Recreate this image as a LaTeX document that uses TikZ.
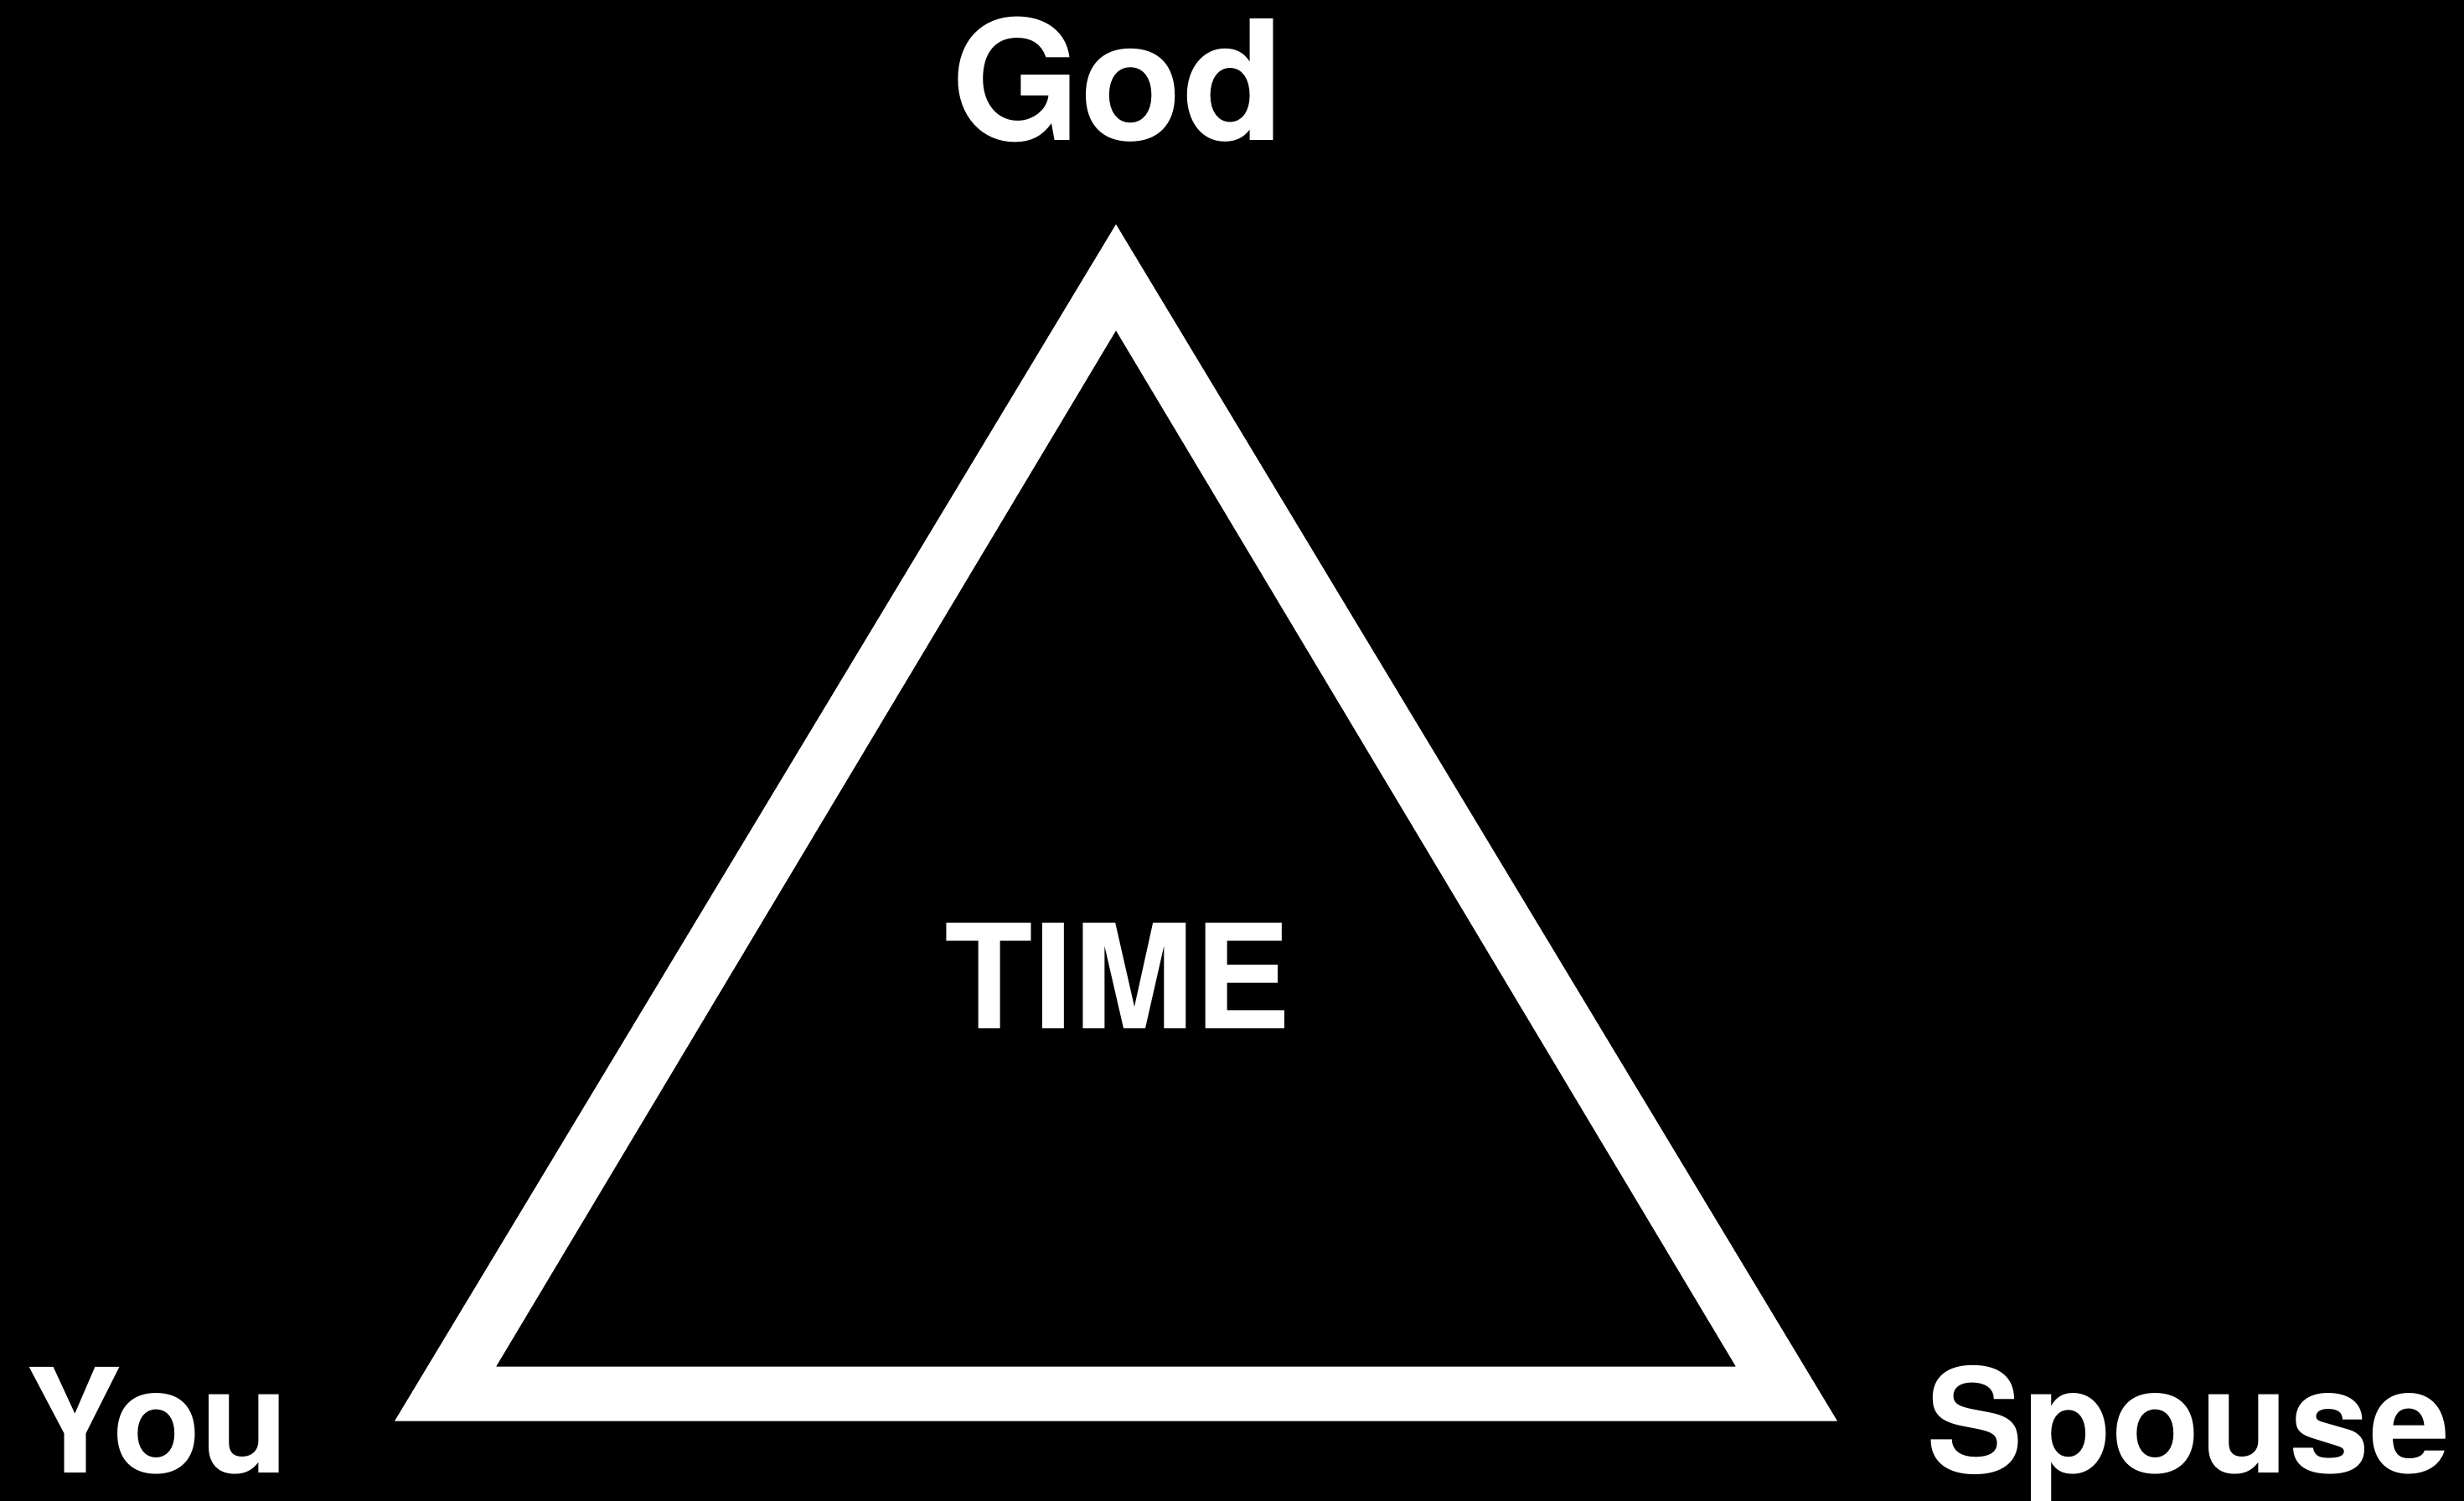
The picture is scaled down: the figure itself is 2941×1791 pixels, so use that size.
\documentclass[tikz,border=0pt]{standalone}
\usepackage{fontspec}
\setmainfont{TeX Gyre Heros}
\begin{document}
\begin{tikzpicture}[x=1bp,y=-1bp,
  lbl/.style={text=white,font=\bfseries\fontsize{173bp}{173bp}\selectfont,inner sep=0pt,anchor=base},
  big/.style={font=\bfseries\fontsize{199bp}{199bp}\selectfont}]
\fill[black] (0,0) rectangle (2941,1791);
\useasboundingbox (0,0) rectangle (2941,1791);
\fill[white,even odd rule]
  (1332,267.7) -- (2193,1695.7) -- (471,1695.7) -- cycle
  (1332,394.3) -- (2072,1630.7) -- (592,1630.7) -- cycle;
\node[lbl,big] (god) at (1334,167) {God};
\node[lbl] (time) at (1334,1227.7) {TIME};
\node[lbl] (you) at (188,1757.7) {You};
\node[lbl] (spouse) at (2612,1757.7) {Spouse};
\end{tikzpicture}
\end{document}
